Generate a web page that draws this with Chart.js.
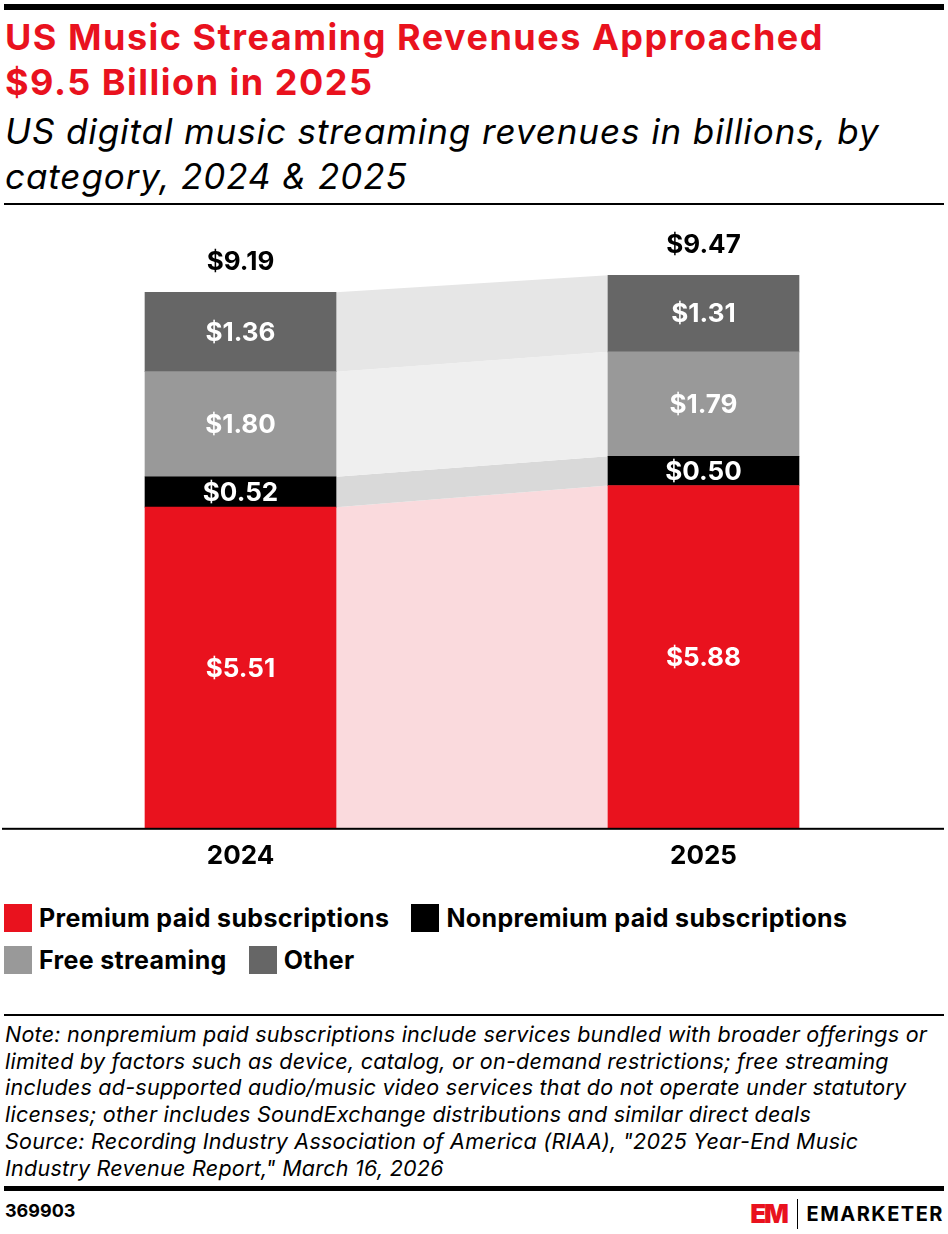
<!DOCTYPE html>
<html>
<head>
<meta charset="utf-8">
<script src="https://cdn.jsdelivr.net/npm/chart.js@4"></script>
<style>
  body { margin: 0; background: #fff; font-family: Inter, "Noto Sans", sans-serif; color: #000; }
  #page { position: relative; width: 948px; height: 1234px; overflow: hidden; }
  .rule { position: absolute; left: 4px; right: 4px; background: #000; }
  #title { position: absolute; left: 5px; top: 15px; font-size: 36px; font-weight: 700; color: #e9121e; line-height: 45px; letter-spacing: 1.5px; }
  #subtitle { position: absolute; left: 5px; top: 109px; font-size: 35px; font-style: italic; line-height: 45px; letter-spacing: 0.9px; }
  #chartBox { position: absolute; left: 0; top: 215px; width: 948px; height: 678px; }
  #legend { position: absolute; left: 4px; top: 904px; width: 940px; }
  .row { display: flex; height: 28px; margin-bottom: 14px; }
  .item { display: flex; align-items: center; margin-right: 22px; font-size: 25px; font-weight: 700; letter-spacing: 0.35px; }
  .box { width: 28px; height: 28px; margin-right: 7px; }
  #note { position: absolute; left: 5px; top: 1021px; font-size: 21.5px; font-style: italic; line-height: 26.7px; letter-spacing: 0.25px; }
  #code { position: absolute; left: 5px; top: 1200px; font-size: 18px; font-weight: 700; }
  #logo { position: absolute; right: 4px; top: 1198px; display: flex; align-items: center; }
  #logo .em { color: #e9121e; font-weight: 900; font-size: 26px; letter-spacing: -2px; }
  #logo .sep { width: 1.5px; height: 30px; background: #000; margin: 0 8px 0 10px; }
  #logo .name { font-weight: 700; font-size: 20px; letter-spacing: 1.5px; }
</style>
</head>
<body>
<div id="page">
  <div class="rule" style="top:4px;height:6px"></div>
  <div id="title">US Music Streaming Revenues Approached<br>$9.5 Billion in 2025</div>
  <div id="subtitle">US digital music streaming revenues in billions, by<br>category, 2024 &amp; 2025</div>
  <div class="rule" style="top:203px;height:2px"></div>

  <div id="chartBox"><canvas id="streamChart"></canvas></div>
  <div id="legend"></div>

  <div class="rule" style="top:1014px;height:2px"></div>
  <div id="note">Note: nonpremium paid subscriptions include services bundled with broader offerings or<br>limited by factors such as device, catalog, or on-demand restrictions; free streaming<br>includes ad-supported audio/music video services that do not operate under statutory<br>licenses; other includes SoundExchange distributions and similar direct deals<br>Source: Recording Industry Association of America (RIAA), "2025 Year-End Music<br>Industry Revenue Report," March 16, 2026</div>
  <div class="rule" style="top:1186px;height:5px"></div>
  <div id="code">369903</div>
  <div id="logo"><span class="em">EM</span><span class="sep"></span><span class="name">EMARKETER</span></div>
</div>

<script>
// values in billions
const years = ["2024", "2025"];
const seriesNames = ["Premium paid subscriptions", "Nonpremium paid subscriptions", "Free streaming", "Other"];
const premium = [5.51, 5.88];
const nonpremium = [0.52, 0.50];
const freeStreaming = [1.80, 1.79];
const other = [1.36, 1.31];
const totals = [9.19, 9.47];

const barColors = ["#e9121e", "#000000", "#999999", "#666666"];
const bandColors = ["#fadadd", "#d9d9d9", "#efefef", "#e6e6e6"];

const seriesValues = [premium, nonpremium, freeStreaming, other];

// legend (html, two rows like the original)
const legendRows = [[0, 1], [2, 3]];
const legendEl = document.getElementById("legend");
legendRows.forEach((row) => {
  const r = document.createElement("div");
  r.className = "row";
  row.forEach((i) => {
    r.innerHTML += `<div class="item"><span class="box" style="background:${barColors[i]}"></span>${seriesNames[i]}</div>`;
  });
  legendEl.appendChild(r);
});

const money = (v) => "$" + v.toFixed(2);

// connecting bands between the two stacks
const bandPlugin = {
  id: "bands",
  beforeDatasetsDraw(chart) {
    const ctx = chart.ctx;
    ctx.save();
    chart.data.datasets.forEach((ds, i) => {
      const meta = chart.getDatasetMeta(i);
      const a = meta.data[0];
      const b = meta.data[1];
      if (!a || !b) return;
      const ax = a.x + a.width / 2;
      const bx = b.x - b.width / 2;
      ctx.fillStyle = bandColors[i];
      ctx.beginPath();
      ctx.moveTo(ax, a.y);
      ctx.lineTo(bx, b.y);
      ctx.lineTo(bx, b.base);
      ctx.lineTo(ax, a.base);
      ctx.closePath();
      ctx.fill();
    });
    ctx.restore();
  },
  afterDatasetsDraw(chart) {
    const ctx = chart.ctx;
    const yScale = chart.scales.y;
    ctx.save();
    // segment values
    ctx.textAlign = "center";
    ctx.textBaseline = "middle";
    ctx.font = "700 26px Inter, 'Noto Sans', sans-serif";
    chart.data.datasets.forEach((ds, i) => {
      const meta = chart.getDatasetMeta(i);
      meta.data.forEach((bar, j) => {
        ctx.fillStyle = "#fff";
        ctx.fillText(money(ds.data[j]), bar.x, (bar.y + bar.base) / 2 + 1);
      });
    });
    // totals above the stacks
    ctx.fillStyle = "#000";
    const topMeta = chart.getDatasetMeta(chart.data.datasets.length - 1);
    topMeta.data.forEach((bar, j) => {
      ctx.fillText(money(totals[j]), bar.x, bar.y - 30);
    });
    // baseline across the whole width
    const y0 = yScale.getPixelForValue(0);
    ctx.fillStyle = "#000";
    ctx.fillRect(2, y0 - 1, chart.width - 6, 2);
    ctx.restore();
  },
};

new Chart(document.getElementById("streamChart"), {
  type: "bar",
  data: {
    labels: years,
    datasets: seriesValues.map((vals, i) => ({
      label: seriesNames[i],
      data: vals,
      backgroundColor: barColors[i],
      borderWidth: 0,
      barThickness: 191,
    })),
  },
  options: {
    responsive: true,
    maintainAspectRatio: false,
    animation: false,
    layout: { padding: { left: 9, right: 13, top: 30, bottom: 9 } },
    plugins: {
      legend: { display: false },
      tooltip: { enabled: false },
    },
    scales: {
      x: {
        stacked: true,
        grid: { display: false, drawTicks: false },
        border: { display: false },
        ticks: {
          padding: 12,
          color: "#000",
          font: { family: "Inter, 'Noto Sans', sans-serif", size: 26, weight: "700" },
        },
      },
      y: {
        stacked: true,
        display: false,
        min: 0,
        max: 10,
      },
    },
  },
  plugins: [bandPlugin],
});
</script>
</body>
</html>
